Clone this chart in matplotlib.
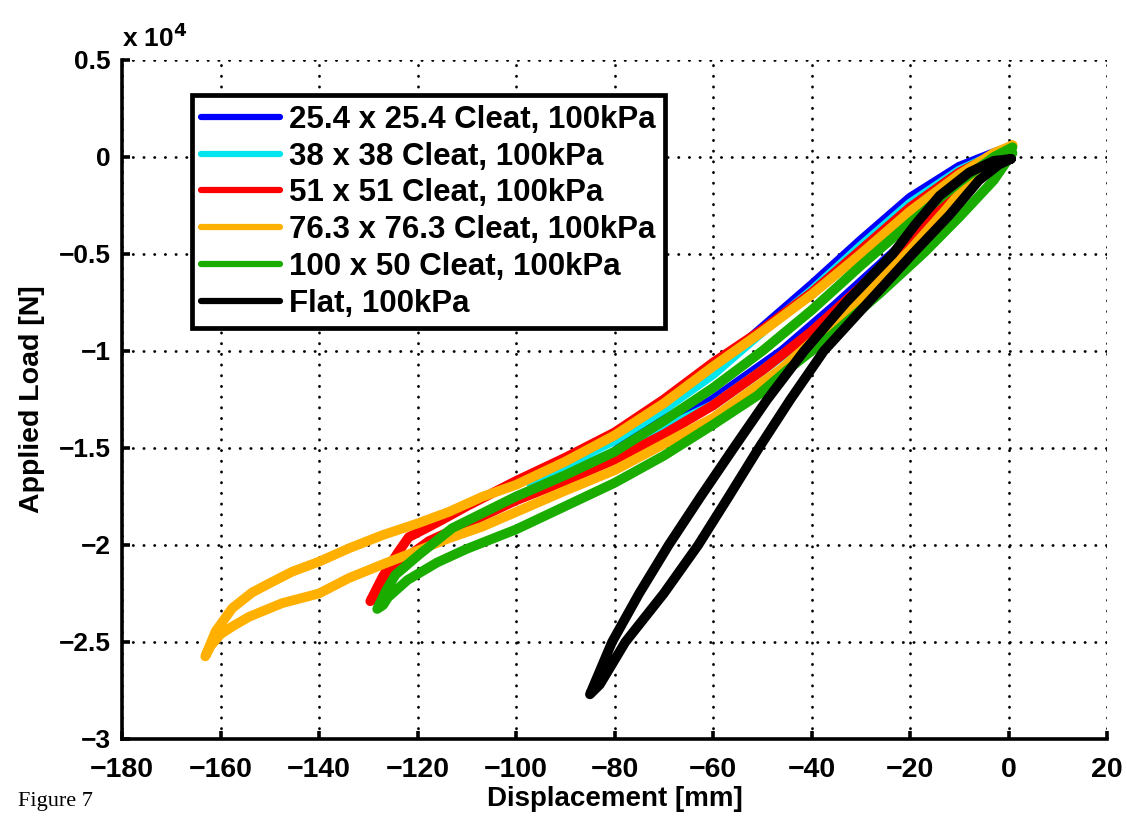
import matplotlib
matplotlib.use("Agg")
import matplotlib.pyplot as plt
from matplotlib.ticker import FixedLocator, FuncFormatter

plt.rcParams["font.family"] = ["Liberation Sans", "DejaVu Sans"]
plt.rcParams["font.weight"] = "bold"

# displacement [mm] and load [x 10^4 N]
# each loop goes out along the upper branch and back along the lower one
blue_disp = [0.5, -3, -10, -20, -30, -40, -50, -60, -70, -78, -82,
             -80, -70, -60, -46, -35, -25, -15, -7, 0]
blue_load = [0.05, 0.02, -0.05, -0.21, -0.43, -0.66, -0.88, -1.10, -1.30, -1.48, -1.56,
             -1.555, -1.41, -1.25, -1.00, -0.76, -0.53, -0.30, -0.12, 0.03]

cyan_disp = [0.5, -3, -10, -20, -30, -40, -50, -60, -70, -80, -90, -97,
             -95, -90, -80, -70, -60, -50, -40, -30, -20, -10, -3, 0.3]
cyan_load = [0.05, 0.01, -0.07, -0.24, -0.46, -0.69, -0.90, -1.12, -1.30, -1.46, -1.58, -1.68,
             -1.675, -1.63, -1.52, -1.40, -1.28, -1.10, -0.91, -0.68, -0.43, -0.18, -0.04, 0.03]

red_disp = [0.5, -3, -10, -20, -30, -40, -50, -60, -70, -80, -90, -100, -110, -115, -118,
            -121.8, -124, -127, -129.6,
            -128.5, -127.2, -125, -123.1, -117.7, -110, -100, -90, -80, -70, -60, -50, -40,
            -30, -20, -10, -3, 0.3]
red_load = [0.05, 0.01, -0.08, -0.26, -0.48, -0.70, -0.89, -1.06, -1.25, -1.42, -1.55, -1.67,
            -1.80, -1.87, -1.91, -1.96, -2.04, -2.16, -2.29,
            -2.26, -2.20, -2.13, -2.08, -1.98, -1.89, -1.77, -1.67, -1.56, -1.43, -1.28, -1.10,
            -0.90, -0.67, -0.42, -0.17, -0.03, 0.03]

orange_disp = [0.8, -3, -10, -20, -30, -40, -50, -60, -70, -80, -90, -100, -106.9, -113.7,
               -120, -127.1, -133.9, -140, -145.4, -149.5, -153.6, -157.6, -161, -163.1,
               -162, -160, -157.6, -154.2, -147.5, -140, -133.9, -127.1, -120, -113.7, -106.9,
               -100, -90, -80, -70, -60, -46, -35, -28, -20, -13, -8, -3, 0.8]
orange_load = [0.06, 0.02, -0.09, -0.28, -0.50, -0.71, -0.90, -1.08, -1.27, -1.435, -1.57,
               -1.69, -1.752, -1.83, -1.889, -1.949, -2.017, -2.086, -2.137, -2.19, -2.245,
               -2.325, -2.445, -2.574,
               -2.52, -2.46, -2.42, -2.37, -2.30, -2.25, -2.17, -2.10, -2.03, -1.966, -1.906,
               -1.83, -1.72, -1.615, -1.48, -1.345, -1.09, -0.84, -0.68, -0.48, -0.28, -0.13,
               -0.02, 0.06]

green_disp = [0.8, -3, -10, -20, -30, -40, -50, -60, -70, -80, -90, -100, -113, -119.7,
              -124.5, -126.5, -128.2,
              -127, -126, -122, -116, -110, -100, -90, -80, -70, -60, -51, -45, -36, -26,
              -17, -10, -3, 0.8]
green_load = [0.05, 0.0, -0.13, -0.34, -0.56, -0.79, -1.00, -1.19, -1.36, -1.52, -1.64,
              -1.75, -1.914, -2.05, -2.154, -2.24, -2.33,
              -2.31, -2.27, -2.18, -2.09, -2.02, -1.92, -1.80, -1.68, -1.54, -1.38, -1.23,
              -1.10, -0.92, -0.70, -0.49, -0.31, -0.12, 0.02]

flat_disp = [0.5, -3, -8, -14, -19, -23.5, -33, -41.5, -49, -55.8, -62.5, -69, -75, -80.5,
             -83.5, -85,
             -83, -77.8, -70, -63, -56.8, -50.7, -44.3, -37.5, -28.5, -19.5, -12, -6, -2, 0.5]
flat_load = [-0.01, -0.02, -0.08, -0.20, -0.35, -0.50, -0.75, -1.00, -1.25, -1.50, -1.75,
             -2.00, -2.25, -2.50, -2.68, -2.77,
             -2.72, -2.50, -2.25, -2.00, -1.75, -1.50, -1.25, -1.00, -0.75, -0.50, -0.30,
             -0.12, -0.04, -0.01]

labels = ["25.4 x 25.4 Cleat, 100kPa", "38 x 38 Cleat, 100kPa", "51 x 51 Cleat, 100kPa",
          "76.3 x 76.3 Cleat, 100kPa", "100 x 50 Cleat, 100kPa", "Flat, 100kPa"]
colors = ["#0000ff", "#00e5ee", "#ff0000", "#ffb000", "#1aad00", "#000000"]

x_ticks = [-180, -160, -140, -120, -100, -80, -60, -40, -20, 0, 20]
y_ticks = [-3, -2.5, -2, -1.5, -1, -0.5, 0, 0.5]


def tick_fmt(v, pos):
    return ("%g" % v).replace("-", "\u2212")


fig = plt.figure(figsize=(11.27, 8.18), dpi=100)
ax = fig.add_axes([0.1083, 0.0966, 0.8740, 0.8301])

series = [(blue_disp, blue_load), (cyan_disp, cyan_load), (red_disp, red_load),
          (orange_disp, orange_load), (green_disp, green_load), (flat_disp, flat_load)]
for (xs, ys), c, lab in zip(series, colors, labels):
    ax.plot(xs, ys, color=c, lw=7, label=lab,
            solid_joinstyle="round", solid_capstyle="round")

ax.set_xlim(-180, 20)
ax.set_ylim(-3, 0.5)
ax.xaxis.set_major_locator(FixedLocator(x_ticks))
ax.yaxis.set_major_locator(FixedLocator(y_ticks))
ax.xaxis.set_major_formatter(FuncFormatter(tick_fmt))
ax.yaxis.set_major_formatter(FuncFormatter(tick_fmt))

# matlab look: dotted grid, only left/bottom axis lines
ax.grid(True, color="black", linestyle=(0, (0.1, 3.75)), linewidth=2.0,
        dash_capstyle="round")
ax.set_axisbelow(True)
for side in ["top", "right"]:
    ax.spines[side].set_visible(False)
for side in ["left", "bottom"]:
    ax.spines[side].set_linewidth(2.6)
ax.tick_params(axis="both", direction="in", length=6, width=2.6)
ax.tick_params(axis="x", labelsize=20.5, pad=13)
ax.tick_params(axis="y", labelsize=19, pad=8)
for t in ax.get_xticklabels() + ax.get_yticklabels():
    t.set_fontweight("bold")

ax.set_xlabel("Displacement [mm]", fontsize=20, fontweight="bold", labelpad=2)
ax.set_ylabel("Applied Load [N]", fontsize=20.5, fontweight="bold", labelpad=10)
ax.text(0.0, 1.012, r"x 10$^{\mathbf{4}}$", transform=ax.transAxes, fontsize=19,
        fontweight="bold", ha="left", va="bottom")

leg = ax.legend(loc="upper left", bbox_to_anchor=(0.071, 0.948), borderaxespad=0,
                fontsize=22.5, fancybox=False, framealpha=1, edgecolor="black",
                handlelength=2.53, handletextpad=0.26, labelspacing=0.22,
                borderpad=0.3)
leg.get_frame().set_linewidth(3.4)
for line in leg.get_lines():
    line.set_linewidth(4.5)
for t in leg.get_texts():
    t.set_fontweight("bold")

fig.text(0.016, 0.008, "Figure 7", family="Liberation Serif", fontweight="normal",
         fontsize=16, ha="left", va="bottom")

fig.savefig("out.png", dpi=100)
